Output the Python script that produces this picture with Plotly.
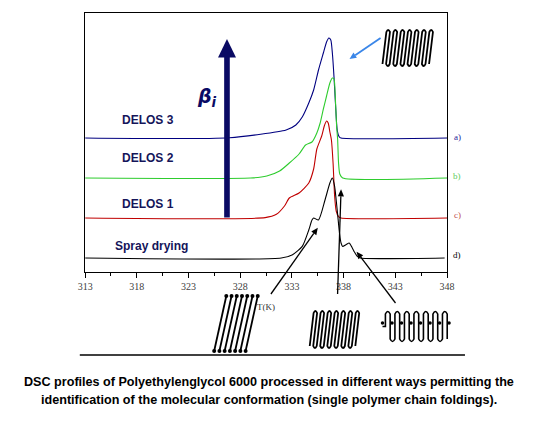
import math
import plotly.graph_objects as go

# temperatures (K) and excess heat flow (a.u.)
temp_a = [313, 326.96, 332.44, 333.38, 334.0, 334.63, 335.10, 335.57, 336.04, 336.35,
          336.57, 336.76, 336.91, 337.07, 337.23, 337.38, 337.57, 337.75, 348]
sig_a = [0, 0.3, 8, 13, 21, 35, 48, 68, 85, 96, 100, 98, 85, 61, 31, 8, 1.3, 0, 0]

temp_b = [313, 329.0, 330.57, 331.81, 332.75, 333.69, 334.32, 334.94, 335.41, 335.73, 336.04,
          336.35, 336.67, 336.91, 337.07, 337.19, 337.32, 337.42, 337.51, 337.63, 337.91, 348]
sig_b = [0, 0, 2, 7, 15, 24, 33, 36, 45, 55, 69, 82, 95, 100, 99, 82, 52, 39, 15, 4, 0, 0]

temp_c = [313, 330.41, 331.50, 332.28, 332.75, 333.69, 334.63, 335.10, 335.41, 335.88, 336.13,
          336.35, 336.51, 336.67, 336.82, 336.98, 337.13, 337.28, 337.51, 337.75, 348]
sig_c = [0, 0.4, 3.7, 12, 20, 25, 35, 49, 69, 82, 92, 97, 95, 86, 78, 55, 22, 7, 1.4, 0, 0]

temp_d = [313, 331.97, 333.06, 334.0, 334.63, 334.94, 335.10, 335.57, 336.20, 336.67, 336.91,
          337.13, 337.28, 337.44, 337.60, 337.75, 337.91, 338.22, 338.54, 338.76, 339.01,
          339.32, 339.63, 347.77]
sig_d = [0, 0, 3.3, 11.6, 28, 38, 40, 38, 58, 75, 80, 71.6, 58, 41.6, 25, 15, 11.6, 13.3,
         15, 11.6, 6.6, 1.6, 0, 0]

offsets = [134, 94, 54, 14]
colors = ['#000080', '#2ecc2e', '#c00000', '#000000']
side_tags = ['a)', 'b)', 'c)', 'd)']
tag_colors = ['#1f1f9a', '#5ccc5c', '#c0504d', '#000000']
names = ['DELOS 3', 'DELOS 2', 'DELOS 1', 'Spray drying']
x_ticks = [313, 318, 323, 328, 333, 338, 343, 348]

navy = '#0a0a64'

fig = go.Figure()
for t, s, off, c in zip([temp_a, temp_b, temp_c, temp_d], [sig_a, sig_b, sig_c, sig_d], offsets, colors):
    fig.add_trace(go.Scatter(x=t, y=[v + off for v in s], mode='lines',
                             line=dict(color=c, width=1.1, shape='spline', smoothing=0.6),
                             hoverinfo='skip'))

# --- sketches of chain conformations (drawn on a pixel overlay axis) ---
# extended chains
ext_x, ext_y = [], []
for i in range(7):
    ext_x += [212.5 + i * 5.4, 225 + i * 5.4, None]
    ext_y += [351, 296, None]
fig.add_trace(go.Scatter(x=ext_x, y=ext_y, mode='lines+markers', xaxis='x2', yaxis='y2',
                         line=dict(color='black', width=1.8), marker=dict(size=4, color='black'),
                         hoverinfo='skip'))


def folded(x0, x1, ytop, ybot, n, slant):
    step = (x1 - x0 - slant) / (n - 1)
    p = 'M %.1f,%.1f' % (x0, ybot)
    for i in range(n):
        xb = x0 + i * step
        if i % 2 == 0:
            p += ' L %.1f,%.1f' % (xb + slant, ytop)
            if i < n - 1:
                p += ' Q %.1f,%.1f %.1f,%.1f' % (xb + slant + step / 2, ytop - 4, xb + slant + step, ytop)
        else:
            p += ' L %.1f,%.1f' % (xb, ybot)
            if i < n - 1:
                p += ' Q %.1f,%.1f %.1f,%.1f' % (xb + step / 2, ybot + 4, xb + step, ybot)
    return p


def meander(x0, step, n, ytop, ybot):
    p = 'M %.1f,%.1f L %.1f,%.1f' % (x0 - 3, (ytop + ybot) / 2, x0, (ytop + ybot) / 2)
    for k in range(n):
        xk = x0 + k * step
        if k % 2 == 0:
            p += ' L %.1f,%.1f' % (xk, ytop)
            if k < n - 1:
                p += ' Q %.1f,%.1f %.1f,%.1f' % (xk + step / 2, ytop - 5, xk + step, ytop)
        else:
            p += ' L %.1f,%.1f' % (xk, ybot)
            if k < n - 1:
                p += ' Q %.1f,%.1f %.1f,%.1f' % (xk + step / 2, ybot + 5, xk + step, ybot)
    return p


shapes = [
    dict(type='path', path=folded(386, 438, 32, 64, 14, 4), xref='x2', yref='y2',
         line=dict(color='black', width=1.8)),
    dict(type='path', path=folded(311, 362, 313, 346, 14, 4), xref='x2', yref='y2',
         line=dict(color='black', width=1.8)),
    dict(type='path', path=meander(389, 4.9, 14, 314, 339), xref='x2', yref='y2',
         line=dict(color='black', width=1.6)),
    # thick navy arrow
    dict(type='rect', x0=222.8, x1=228.6, y0=56, y1=217.5, xref='x2', yref='y2',
         fillcolor=navy, line=dict(width=0)),
    dict(type='path', path='M 216.5,57.5 L 225.7,39 L 235,57.5 Z', xref='x2', yref='y2',
         fillcolor=navy, line=dict(width=0)),
    # separator under the chart
    dict(type='line', x0=74, x1=471, y0=355, y1=355, xref='x2', yref='y2',
         line=dict(color='black', width=1.3)),
]

# pointer arrows: head point, tail point, colour, width
arrows = [((352, 59), (384, 38), '#3a86e8', 1.8),
          ((319.3, 227.7), (271, 294), 'black', 1.3),
          ((343.3, 189.3), (339.7, 294), 'black', 1.3),
          ((359.3, 251.7), (399.4, 303), 'black', 1.3)]
for (hx, hy), (tx, ty), ac, aw in arrows:
    d = math.hypot(hx - tx, hy - ty)
    ux, uy = (hx - tx) / d, (hy - ty) / d
    bx, by = hx - 7 * ux, hy - 7 * uy
    shapes.append(dict(type='line', x0=tx, y0=ty, x1=bx, y1=by, xref='x2', yref='y2',
                       line=dict(color=ac, width=aw)))
    shapes.append(dict(type='path', xref='x2', yref='y2', fillcolor=ac, line=dict(width=0),
                       path='M %.1f,%.1f L %.1f,%.1f L %.1f,%.1f Z' % (
                           hx, hy, bx - 3.2 * uy, by + 3.2 * ux, bx + 3.2 * uy, by - 3.2 * ux)))

# mid-height dots on the meander
dot_x = [386 + k * 9.8 for k in range(8)]
fig.add_trace(go.Scatter(x=dot_x, y=[323] * len(dot_x), mode='markers', xaxis='x2', yaxis='y2',
                         marker=dict(size=3.5, color='black'), hoverinfo='skip'))

ann = []
label_y = [120, 158, 204, 246]
label_x = [115, 115, 115, 108]
for nm, lx, ly in zip(names, label_x, label_y):
    ann.append(dict(x=lx, y=ly, xref='x2', yref='y2', text='<b>%s</b>' % nm, showarrow=False,
                    xanchor='left', font=dict(family='Liberation Sans', size=12, color='#15155a')))
for tag, tc, ty in zip(side_tags, tag_colors, [137, 176, 215, 255]):
    ann.append(dict(x=463, y=ty, xref='x2', yref='y2', text=tag, showarrow=False,
                    font=dict(family='Liberation Serif', size=9, color=tc)))

ann.append(dict(x=205, y=97, xref='x2', yref='y2', showarrow=False,
                text='<b><i>β</i></b><sub><b><i>i</i></b></sub>',
                font=dict(family='DejaVu Sans', size=19, color=navy)))
ann.append(dict(x=266, y=307, xref='x2', yref='y2', text='T(K)', showarrow=False,
                font=dict(family='Liberation Serif', size=9, color='#333333')))

cap_font = dict(family='Liberation Sans', size=12.6, color='black')
ann.append(dict(x=268.5, y=382, xref='x2', yref='y2', showarrow=False, font=cap_font,
                text='<b>DSC profiles of Polyethylenglycol 6000 processed in different ways permitting the</b>'))
ann.append(dict(x=268.5, y=400, xref='x2', yref='y2', showarrow=False, font=cap_font,
                text='<b>identification of the molecular conformation (single polymer chain foldings).</b>'))

fig.update_layout(
    width=537, height=425,
    margin=dict(l=0, r=0, t=0, b=0),
    showlegend=False,
    paper_bgcolor='white',
    plot_bgcolor='rgba(0,0,0,0)',
    xaxis=dict(domain=[79.5 / 537, 452.5 / 537], range=[313, 348], tickvals=x_ticks,
               showline=True, mirror=True, linecolor='black', linewidth=1,
               ticks='outside', ticklen=5, tickcolor='black', showgrid=False, zeroline=False,
               minor=dict(dtick=2.5, tick0=313, ticks='outside', ticklen=3, tickcolor='black'),
               tickfont=dict(family='Liberation Serif', size=10, color='#404040')),
    yaxis=dict(domain=[(425 - 272) / 425, (425 - 13) / 425], range=[0, 259],
               showline=True, mirror=True, linecolor='black', linewidth=1,
               showticklabels=False, ticks='', showgrid=False, zeroline=False),
    xaxis2=dict(domain=[0, 1], range=[0, 537], visible=False, anchor='y2'),
    yaxis2=dict(domain=[0, 1], range=[425, 0], visible=False, anchor='x2'),
    shapes=shapes,
    annotations=ann,
)

# page body has an 8px default margin; drop it so the figure sits at the window origin
fig.write_html("out.html", config={'displayModeBar': False},
               post_script="document.body.style.margin='0';")
